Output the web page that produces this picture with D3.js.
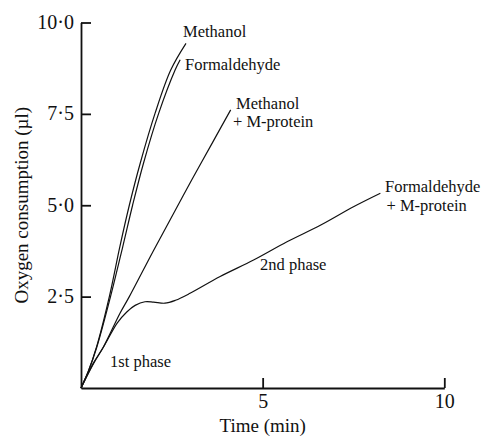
<!DOCTYPE html>
<html>
<head>
<meta charset="utf-8">
<script src="https://cdn.jsdelivr.net/npm/d3@7"></script>
<style>
  body { margin: 0; background: #fff; }
  text { font-family: "Liberation Serif", "Times New Roman", serif; fill: #111; }
  .axis path, .axis line { stroke: #111; stroke-width: 1.8; }
  .curve { fill: none; stroke: #111; stroke-width: 1.2; }
</style>
</head>
<body>
<div id="chart"></div>
<script>
// time (min) vs oxygen consumption (µl)
var methanol = [[0, 0], [0.2, 0.45], [0.43, 1.13], [0.78, 2.5], [1.07, 3.87], [1.33, 5.0], [1.63, 6.15],
    [2.04, 7.52], [2.47, 8.7], [2.89, 9.43]];
var formaldehyde = [[0, 0], [0.2, 0.45], [0.43, 1.1], [0.8, 2.45], [1.15, 3.87], [1.42, 5.0], [1.72, 6.15],
    [2.14, 7.52], [2.59, 8.7], [2.73, 8.98]];
var methanolM = [[0, 0], [0.34, 0.68], [0.62, 1.13], [1.07, 2.04], [1.33, 2.5], [1.99, 3.75], [2.54, 4.76],
    [3.05, 5.7], [3.6, 6.68], [4.12, 7.61]];
var formaldehydeM = [[0, 0], [0.34, 0.66], [0.62, 1.12], [1.0, 1.78], [1.26, 2.08], [1.49, 2.26], [1.76, 2.36],
    [2.0, 2.35], [2.31, 2.32], [2.6, 2.4], [3.0, 2.59], [3.83, 3.05], [4.75, 3.5], [5.67, 4.0], [6.6, 4.46],
    [7.5, 4.96], [8.24, 5.33]];

var xTicks = [5, 10];
var yTicks = [2.5, 5, 7.5, 10];

var svgWidth = 485;
var svgHeight = 438;

var svg = d3.select("#chart").append("svg")
    .attr("width", svgWidth)
    .attr("height", svgHeight);

// scales
var xScale = d3.scaleLinear().domain([0, 10]).range([81, 444.3]);
var yScale = d3.scaleLinear().domain([0, 10]).range([388, 22.5]);

// y axis, ticks point inward
var yAxis = d3.axisLeft(yScale)
    .tickValues(yTicks)
    .tickSize(-10)
    .tickSizeOuter(0)
    .tickPadding(7)
    .tickFormat(d => d3.format(".1f")(d).replace(".", "\u00b7"));

svg.append("g")
    .attr("class", "axis")
    .attr("transform", `translate(${xScale(0)}, 0)`)
    .call(yAxis)
    .selectAll("text")
    .attr("font-size", 20)
    .attr("dy", "0.3em");

// x axis
var xAxis = d3.axisBottom(xScale)
    .tickValues(xTicks)
    .tickSize(-10)
    .tickSizeOuter(0)
    .tickPadding(6);

svg.append("g")
    .attr("class", "axis")
    .attr("transform", `translate(0, ${yScale(0)})`)
    .call(xAxis)
    .selectAll("text")
    .attr("font-size", 20);

svg.selectAll(".axis .domain").attr("stroke-width", 2);

// axis titles
svg.append("text")
    .attr("x", (xScale(0) + xScale(10)) / 2)
    .attr("y", 432)
    .attr("text-anchor", "middle")
    .attr("font-size", 19)
    .text("Time (min)");

svg.append("text")
    .attr("transform", `translate(28, ${yScale(5)}) rotate(-90)`)
    .attr("text-anchor", "middle")
    .attr("font-size", 19)
    .text("Oxygen consumption (\u00b5l)");

// curves
var line = d3.line()
    .x(d => xScale(d[0]))
    .y(d => yScale(d[1]))
    .curve(d3.curveCatmullRom.alpha(0.5));

[methanol, formaldehyde, methanolM, formaldehydeM].forEach(function(series) {
    svg.append("path")
        .datum(series)
        .attr("class", "curve")
        .attr("d", line);
});

// annotations
var notes = [
    { t: "Methanol", x: 183, y: 36.5 },
    { t: "Formaldehyde", x: 185, y: 70 },
    { t: "Methanol", x: 236, y: 109 },
    { t: "+ M-protein", x: 233, y: 127 },
    { t: "Formaldehyde", x: 385, y: 191.5 },
    { t: "+ M-protein", x: 386.5, y: 211 },
    { t: "2nd phase", x: 260, y: 270 },
    { t: "1st phase", x: 110, y: 367 }
];

svg.append("g")
    .selectAll("text")
    .data(notes)
    .enter()
    .append("text")
    .attr("x", d => d.x)
    .attr("y", d => d.y)
    .attr("font-size", 16.5)
    .text(d => d.t);
</script>
</body>
</html>
